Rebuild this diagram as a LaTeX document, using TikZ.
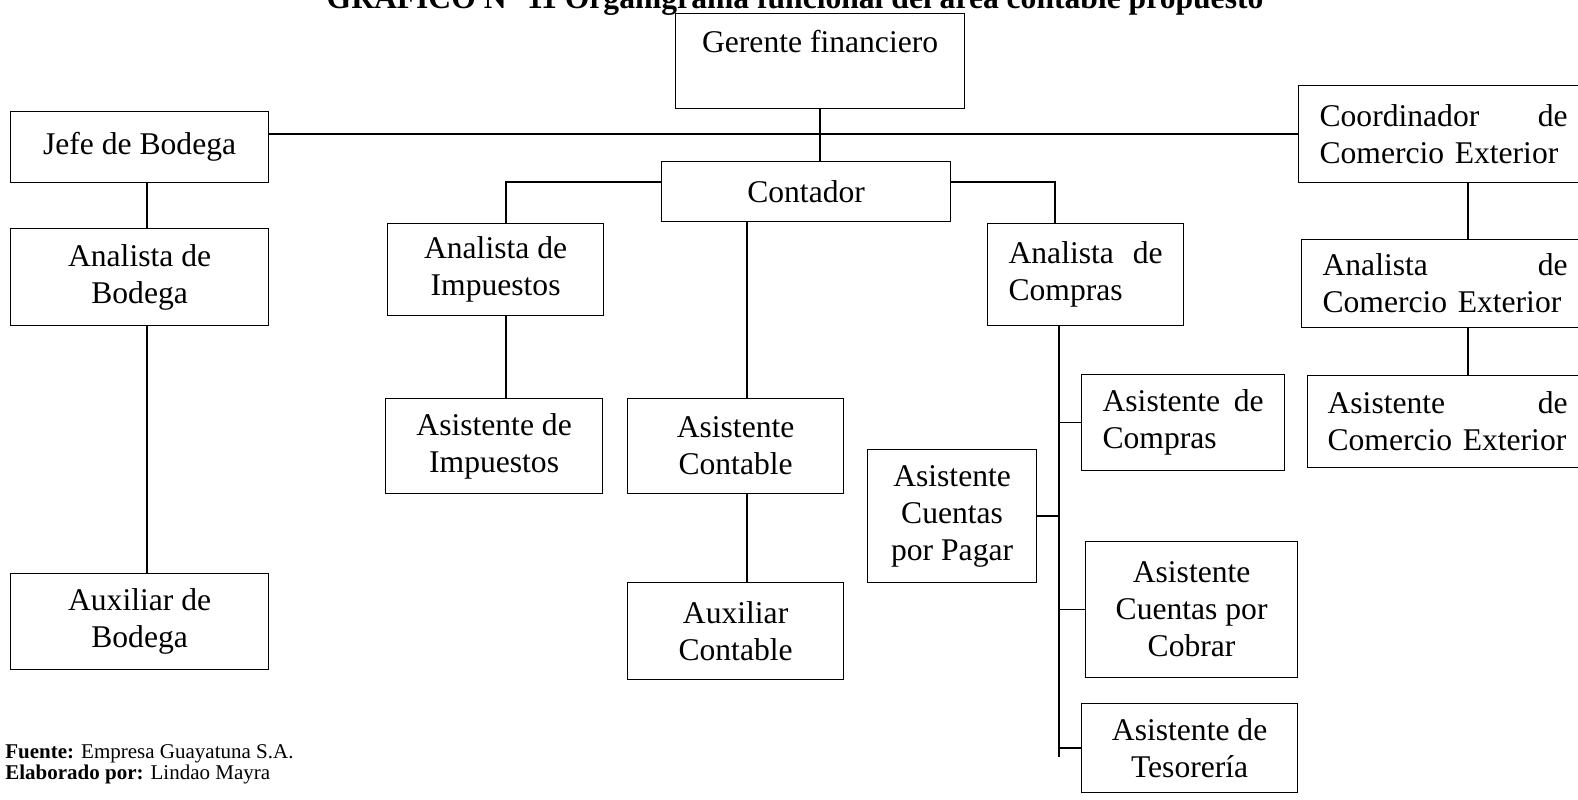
\documentclass[tikz,border=0pt]{standalone}
\usepackage{fontspec}
\setmainfont{Liberation Serif}
\begin{document}
\begin{tikzpicture}[x=0.5pt, y=-0.5pt,
    cargo/.style={draw, line width=0.6pt, anchor=north west, inner sep=0pt, align=center, font=\fontsize{15.8}{18.5}\selectfont},
    cargoj/.style={draw, line width=0.6pt, anchor=north west, inner xsep=10.5pt, inner ysep=0pt, align=left, font=\fontsize{15.8}{18.5}\selectfont},
    linea/.style={line width=0.8pt}]
\useasboundingbox (0,0) rectangle (1578,799);

% Titulo
\node[anchor=base, inner sep=0pt, font=\fontsize{15.8}{18.5}\selectfont\bfseries] (titulo) at (795,8) {GRAFICO N° 11 Organigrama funcional del área contable propuesto};

% Gerente financiero
\node[cargo, minimum width=144.5pt, text height=19.5pt, text depth=28pt] (gerente) at (675,13) {Gerente financiero};

% Jefe de Bodega y Coordinador
\node[cargo, minimum width=129pt, minimum height=35.5pt] (jefe) at (10,111) {Jefe de Bodega};
\node[cargoj, text width=124pt, minimum height=48.5pt] (coord) at (1298,85) {Coordinador\hfill de\\Comercio Exterior};

% Contador
\node[cargo, minimum width=144.5pt, minimum height=30pt] (contador) at (661,161) {Contador};

% Bodega
\node[cargo, minimum width=129pt, minimum height=48.5pt] (anabod) at (10,228) {Analista de\\Bodega};
\node[cargo, minimum width=129pt, minimum height=48pt] (auxbod) at (10,573) {Auxiliar de\\Bodega};

% Impuestos
\node[cargo, minimum width=108pt, minimum height=46pt] (anaimp) at (387,223) {Analista de\\Impuestos};
\node[cargo, minimum width=108.5pt, minimum height=47.5pt] (asiimp) at (385,398) {Asistente de\\Impuestos};

% Contable
\node[cargo, minimum width=108pt, minimum height=47.5pt] (asicont) at (627,398) {Asistente\\Contable};
\node[cargo, minimum width=108pt, minimum height=48.5pt] (auxcont) at (627,582) {Auxiliar\\Contable};

% Compras
\node[cargoj, text width=77pt, minimum height=51pt] (anacomp) at (987,223) {Analista\hfill de\\Compras};
\node[cargoj, text width=80.5pt, minimum height=48pt] (asicomp) at (1081,374) {Asistente\hfill de\\Compras};
\node[cargo, minimum width=84.5pt, minimum height=66.5pt] (asipagar) at (867,449) {Asistente\\Cuentas\\por Pagar};
\node[cargo, minimum width=106pt, minimum height=68pt] (asicobrar) at (1085,541) {Asistente\\Cuentas por\\Cobrar};
\node[cargo, minimum width=108pt, minimum height=44.5pt] (asiteso) at (1081,703) {Asistente de\\Tesorería};

% Comercio Exterior
\node[cargoj, text width=122.5pt, minimum height=44pt] (anacom) at (1301,239) {Analista\hfill de\\Comercio Exterior};
\node[cargoj, inner xsep=10pt, text width=120pt, minimum height=46pt] (asicom) at (1307,375) {Asistente\hfill de\\Comercio Exterior};

% Conectores
\coordinate (bodx) at (147,0);
\coordinate (impx) at (506,182);
\coordinate (contx) at (747,0);
\coordinate (compx) at (1055,182);
\coordinate (trunk) at (1059,757);
\coordinate (comx) at (1468,0);

\draw[linea] (coord.west) -- (coord.west -| jefe.east);
\draw[linea] (gerente.south) -- (gerente.south |- contador.north);
\draw[linea] (jefe.south -| bodx) -- (anabod.north -| bodx);
\draw[linea] (anabod.south -| bodx) -- (auxbod.north -| bodx);
\draw[linea] (contador.west |- impx) -- (impx) -- (impx |- anaimp.north);
\draw[linea] (anaimp.south -| impx) -- (asiimp.north -| impx);
\draw[linea] (contador.east |- compx) -- (compx) -- (compx |- anacomp.north);
\draw[linea] (contador.south -| contx) -- (asicont.north -| contx);
\draw[linea] (asicont.south -| contx) -- (auxcont.north -| contx);
\draw[linea] (anacomp.south -| trunk) -- (trunk);
\draw[linea] (asicomp.west) -- (asicomp.west -| trunk);
\draw[linea] (asipagar.east) -- (asipagar.east -| trunk);
\draw[linea] (asicobrar.west) -- (asicobrar.west -| trunk);
\draw[linea] (asiteso.west) -- (asiteso.west -| trunk);
\draw[linea] (coord.south -| comx) -- (anacom.north -| comx);
\draw[linea] (anacom.south -| comx) -- (asicom.north -| comx);

% Fuente
\node[anchor=base west, inner sep=0pt, font=\fontsize{10.5}{12}\selectfont] (fuente) at (5,758) {\textbf{Fuente:} Empresa Guayatuna S.A.};
\node[anchor=base west, inner sep=0pt, font=\fontsize{10.5}{12}\selectfont] (elaborado) at (5,779) {\textbf{Elaborado por:} Lindao Mayra};
\end{tikzpicture}
\end{document}
